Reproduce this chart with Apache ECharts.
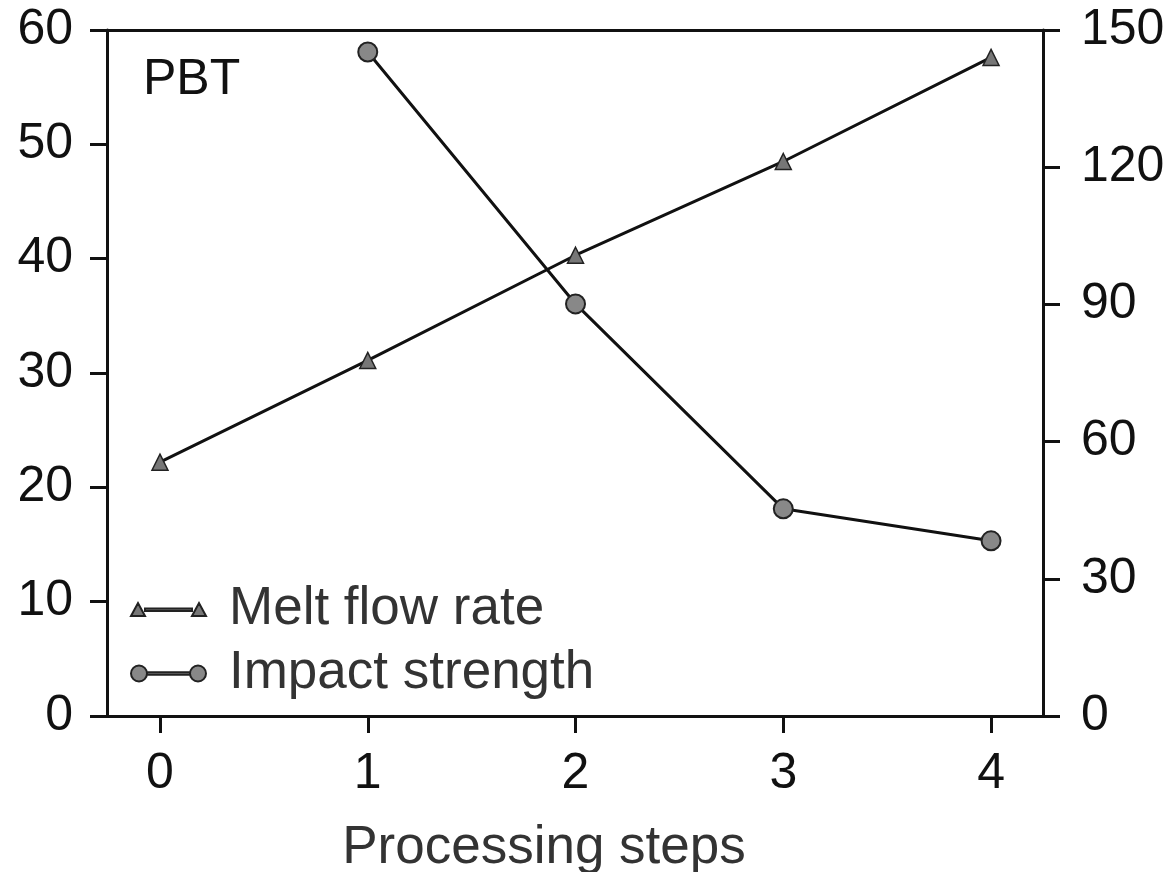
<!DOCTYPE html>
<html>
<head>
    <meta charset="utf-8" />
    <title>PBT</title>
    <script src="https://cdn.jsdelivr.net/npm/echarts@6/dist/echarts.min.js"></script>
</head>
<body style="margin:0;background:#fff;">
    <div id="main" style="width:1176px;height:872px;"></div>
<script type="text/javascript">
    // processing steps on x, two series on separate y axes
    var steps = [0, 1, 2, 3, 4];
    var meltFlowRate = [22.2, 31.1, 40.3, 48.5, 57.6];
    var impactSteps = [1, 2, 3, 4];
    var impactStrength = [145.2, 90.1, 45.3, 38.3];

    var font = 'Liberation Sans, Arial, sans-serif';
    var triIcon = 'path://M0,20L7,7L14,20ZM14,12.5L61,12.5L61,15L14,15ZM61,20L68,7L75,20Z';
    var dotIcon = 'path://M0,10A8,8 0 1,1 16,10A8,8 0 1,1 0,10ZM16,8.75L59,8.75L59,11.25L16,11.25ZM59,10A8,8 0 1,1 75,10A8,8 0 1,1 59,10Z';

    var myChart = echarts.init(document.getElementById('main'));
    var axisLine = { show: true, onZero: false, lineStyle: { color: '#111', width: 3 } };
    var tick = { show: true, length: 17, lineStyle: { color: '#111', width: 3 } };

    var option = {
        animation: false,
        backgroundColor: '#fff',
        title: {
            text: 'PBT', left: 138, top: 50,
            textStyle: { fontFamily: font, fontSize: 50, fontWeight: 'normal', color: '#111' }
        },
        legend: {
            orient: 'vertical', left: 125, top: 578,
            itemWidth: 75, itemHeight: 20, itemGap: 11,
            textStyle: { fontFamily: font, fontSize: 53, color: '#333', padding: [0, 0, 0, 18] },
            data: [
                { name: 'Melt flow rate', icon: triIcon },
                { name: 'Impact strength', icon: dotIcon }
            ]
        },
        grid: { left: 107, right: 133, top: 30, bottom: 156, outerBoundsMode: 'none' },
        xAxis: [{
            type: 'value', min: -0.255, max: 4.25,
            name: 'Processing steps', nameLocation: 'middle', nameGap: 106,
            nameTextStyle: { fontFamily: font, fontSize: 53, color: '#333', padding: [0, 62, 0, 0] },
            axisLine: axisLine,
            axisTick: { show: true, length: 17, lineStyle: { color: '#111', width: 3 }, customValues: steps },
            axisLabel: { customValues: steps, fontFamily: font, fontSize: 50, color: '#111', margin: 33 },
            splitLine: { show: false }
        }, {
            type: 'value', position: 'top', min: -0.255, max: 4.25,
            axisLine: axisLine, axisTick: { show: false }, axisLabel: { show: false },
            splitLine: { show: false }
        }],
        yAxis: [{
            type: 'value', min: 0, max: 60, interval: 10, position: 'left',
            axisLine: axisLine, axisTick: tick,
            axisLabel: { fontFamily: font, fontSize: 50, color: '#111', margin: 34 },
            splitLine: { show: false }
        }, {
            type: 'value', min: 0, max: 150, interval: 30, position: 'right',
            axisLine: axisLine, axisTick: tick,
            axisLabel: { fontFamily: font, fontSize: 50, color: '#111', margin: 38 },
            splitLine: { show: false }
        }],
        series: [{
            name: 'Melt flow rate', type: 'line', yAxisIndex: 0,
            data: steps.map(function (s, i) { return [s, meltFlowRate[i]]; }),
            symbol: 'triangle', symbolSize: 16,
            lineStyle: { color: '#111', width: 3 },
            itemStyle: { color: '#777', borderColor: '#222', borderWidth: 1.5 }
        }, {
            name: 'Impact strength', type: 'line', yAxisIndex: 1,
            data: impactSteps.map(function (s, i) { return [s, impactStrength[i]]; }),
            symbol: 'circle', symbolSize: 19,
            lineStyle: { color: '#111', width: 3 },
            itemStyle: { color: '#888', borderColor: '#222', borderWidth: 2 }
        }]
    };

    myChart.setOption(option);
</script>
</body>
</html>
